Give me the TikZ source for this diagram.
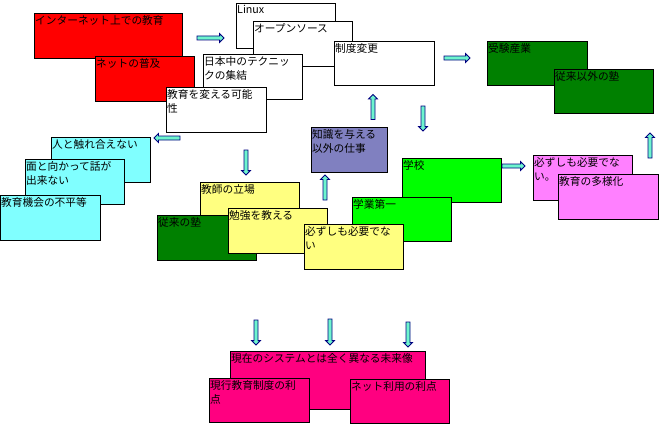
\documentclass[tikz,border=0pt]{standalone}
\usepackage{fontspec}
\newfontfamily\jp{Noto Sans CJK JP}
\usetikzlibrary{shapes.arrows}
\definecolor{navyline}{RGB}{0,0,128}
\definecolor{aqua}{RGB}{110,245,205}
\definecolor{hired}{RGB}{255,0,0}
\definecolor{dkgreen}{RGB}{0,128,0}
\definecolor{ltcyan}{RGB}{128,255,255}
\definecolor{slate}{RGB}{128,128,192}
\definecolor{lime}{RGB}{0,255,0}
\definecolor{ltviolet}{RGB}{255,128,255}
\definecolor{ltyellow}{RGB}{255,255,128}
\definecolor{rose}{RGB}{255,0,128}
\begin{document}
\begin{tikzpicture}[x=1pt, y=-1pt,
  box/.style={rectangle, draw=black, line width=0.8pt, anchor=north west, inner sep=0pt},
  txt/.style={anchor=north west, inner xsep=1pt, inner ysep=2.5pt, align=left, font=\jp\fontsize{10.7}{13.5}\selectfont},
  blk/.style={single arrow, draw=navyline, fill=aqua, line width=0.8pt, inner sep=1.6pt, single arrow head extend=2.4pt}]
  \useasboundingbox (0,0) rectangle (660,428);
  % boxes, bottom one first
  \foreach \n/\x/\y/\c/\w/\h/\t in {
    inet/34/13/hired/148/45/{インターネット上での教育},
    fukyu/95/56/hired/99/45/{ネットの普及},
    linux/236/3/white/99/45/{Linux},
    oss/253/21/white/99/45/{オープンソース},
    gijutsu/203/54/white/99/45/{日本中のテクニッ\\クの集結},
    seido/334/41/white/100/44/{制度変更},
    kanou/166/87/white/100/45/{教育を変える可能\\性},
    juken/487/41/dkgreen/100/44/{受験産業},
    jukugai/554/69/dkgreen/99/44/{従来以外の塾},
    fureai/51/137/ltcyan/99/45/{人と触れ合えない},
    taimen/25/159/ltcyan/99/45/{面と向かって話が\\出来ない},
    fubyodo/0/195/ltcyan/100/45/{教育機会の不平等},
    chishiki/311/127/slate/76/45/{知識を与える\\以外の仕事},
    gakko/402/158/lime/99/44/{学校},
    gakugyo/352/197/lime/99/44/{学業第一},
    hitsuyo/533/155/ltviolet/99/45/{必ずしも必要でな\\い。},
    tayou/558/174/ltviolet/100/45/{教育の多様化},
    kyoshi/200/182/ltyellow/99/45/{教師の立場},
    juku/157/215/dkgreen/99/45/{従来の塾},
    benkyo/228/208/ltyellow/99/45/{勉強を教える},
    hitsuyob/304/224/ltyellow/99/45/{必ずしも必要でな\\い},
    mirai/230/351/rose/195/58/{現在のシステムとは全く異なる未来像},
    genko/209/378/rose/100/44/{現行教育制度の利\\点},
    netriyo/350/379/rose/99/44/{ネット利用の利点}}
  {
    \node[box, fill=\c, minimum width=\w, minimum height=\h] (\n) at (\x,\y) {};
    \node[txt] (\n-t) at (\n.north west) {\t};
  }
  % block arrows
  \foreach \n/\x/\y/\r/\l in {a1/209.5/38/0/27, a2/456/58/0/26, a3/373/108/90/25,
    a4/423/117.5/-90/25, a5/168/138/180/26, a6/246/161.5/-90/25, a7/325/188.5/90/25,
    a8/512.5/166/0/23, a9/650/146.5/90/25, a10/256/331.5/-90/25, a11/330/331/-90/26,
    a12/408/333.5/-90/25}
  {
    \node[blk, rotate=\r, minimum height=\l] (\n) at (\x,\y) {};
  }
\end{tikzpicture}
\end{document}
